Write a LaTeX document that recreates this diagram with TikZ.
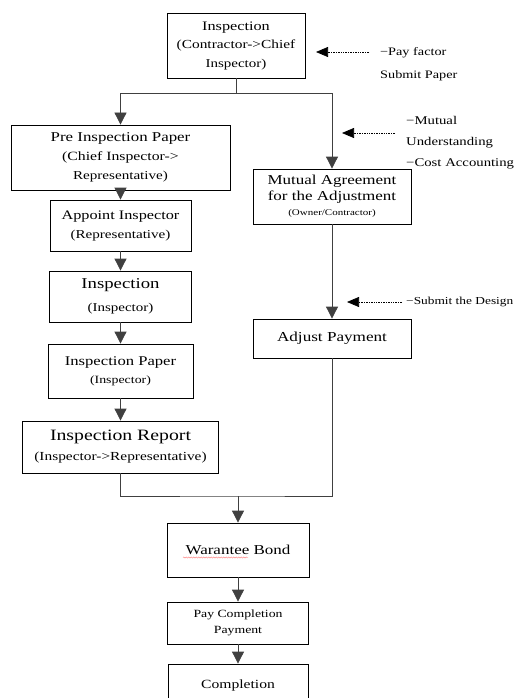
\documentclass[tikz,border=0pt]{standalone}
\usepackage{fontspec}
\setmainfont{Liberation Serif}[FakeStretch=1.25]
\usetikzlibrary{arrows.meta,decorations.pathmorphing}
% local font size for one line of a label
\newcommand{\fsz}[2]{{\fontsize{#1}{#1}\selectfont #2}}
% node font: size and line spacing
\newcommand{\nf}[2]{\fontsize{#1}{#2}\selectfont}
\begin{document}
\begin{tikzpicture}[x=1pt,y=-1pt,
  box/.style={draw=black, line width=0.8pt, inner sep=0pt, align=center},
  conn/.style={draw=black!75, line width=0.8pt},
  flow/.style={conn, -{Triangle[width=12pt,length=12pt]}},
  notearrow/.style={draw=black, line width=0.7pt, densely dotted,
    -{Triangle[width=10pt,length=12pt]}},
  notetext/.style={anchor=west, inner sep=0pt, align=left}]
\useasboundingbox (0,0) rectangle (516,698);
\clip (0,0) rectangle (516,698);

% ---- top ----
\node[box, minimum width=138pt, minimum height=65pt, font=\nf{13}{18.5}] (start) at (236,45.5)
  {\fsz{13}{Inspection}\\\fsz{12.3}{(Contractor->Chief}\\\fsz{12}{Inspector)}};

% ---- left column ----
\node[box, minimum width=219pt, minimum height=65pt, font=\nf{13}{19}] (pre) at (120.5,157.5)
  {\fsz{13.5}{Pre Inspection Paper}\\\fsz{12.6}{(Chief Inspector->}\\\fsz{12.1}{Representative)}};
\node[box, minimum width=141pt, minimum height=51pt, font=\nf{13}{19}] (appoint) at (120.5,225.5)
  {\fsz{13}{Appoint Inspector}\\\fsz{12.1}{(Representative)}};
\node[box, minimum width=142pt, minimum height=51pt, font=\nf{13}{23}] (insp) at (120.5,296.5)
  {\fsz{15}{Inspection}\\\fsz{12}{(Inspector)}};
\node[box, minimum width=145pt, minimum height=54pt, font=\nf{13}{18}] (paper) at (120.5,371)
  {\fsz{13.3}{Inspection Paper}\\\fsz{11.1}{(Inspector)}};
\node[box, minimum width=196pt, minimum height=52pt, font=\nf{13}{20}] (report) at (120.5,447)
  {\fsz{15.8}{Inspection Report}\\\fsz{12.3}{(Inspector->Representative)}};

% ---- right column ----
\node[box, minimum width=158pt, minimum height=55pt, font=\nf{13}{15.5}] (mutual) at (332,196.5)
  {\fsz{13.6}{Mutual Agreement}\\\fsz{13.6}{for the Adjustment}\\\fsz{8.8}{(Owner/Contractor)}};
\node[box, minimum width=158pt, minimum height=39pt, font=\nf{13.7}{16}] (adjust) at (332,338.5)
  {Adjust Payment};

% ---- bottom ----
\node[box, minimum width=142pt, minimum height=54pt, font=\nf{13.6}{16}] (bond) at (238,550)
  {Warantee Bond};
\node[box, minimum width=141pt, minimum height=42pt, font=\nf{11}{16}] (pay) at (238,623)
  {Pay Completion\\Payment};
\node[box, minimum width=140pt, minimum height=42pt, font=\nf{12.5}{16}] (done) at (238,685)
  {Completion};

% spelling underline under "Warantee"
\draw[red!55, line width=0.4pt, decorate,
  decoration={snake, amplitude=0.6pt, segment length=2.5pt}] (183,557.5) -- (248,557.5);

% ---- flow connectors ----
\draw[flow] (start.south) -- ++(0,15) -| (pre.north);
\draw[flow] (start.south) -- ++(0,15) -| (mutual.north);
\draw[flow] (pre.south) -- (appoint.north);
\draw[flow] (appoint.south) -- (insp.north);
\draw[flow] (insp.south) -- (paper.north);
\draw[flow] (paper.south) -- (report.north);
\draw[flow] (mutual.south) -- (adjust.north);
\coordinate (join) at (238,496);
\draw[conn] (report.south) |- (join) -| (adjust.south);
\draw[flow] (join) -- (bond.north);
\draw[flow] (bond.south) -- (pay.north);
\draw[flow] (pay.south) -- (done.north);

% ---- side notes ----
\node[notetext, font=\nf{11.4}{23}] (n1) at (380,64.5) {−Pay factor\\Submit Paper};
\coordinate (n1tail) at (369,52);
\coordinate (n1tip) at (316,52);
\draw[notearrow] (n1tail) -- (n1tip);

\node[notetext, font=\nf{11.8}{21}] (n2) at (406,143) {−Mutual\\Understanding\\−Cost Accounting};
\coordinate (n2tail) at (395,133);
\coordinate (n2tip) at (342,133);
\draw[notearrow] (n2tail) -- (n2tip);

\node[notetext, font=\nf{10.7}{14}] (n3) at (406,302) {−Submit the Design};
\coordinate (n3tail) at (402,302);
\coordinate (n3tip) at (347,302);
\draw[notearrow] (n3tail) -- (n3tip);
\end{tikzpicture}
\end{document}
